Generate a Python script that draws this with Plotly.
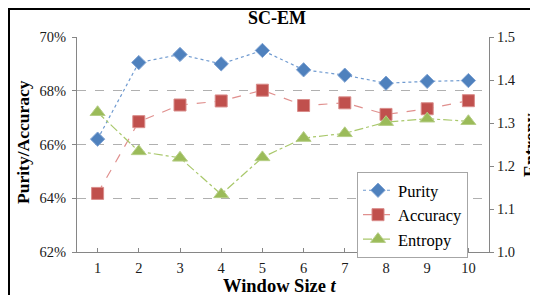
import plotly.graph_objects as go

window_sizes = [1, 2, 3, 4, 5, 6, 7, 8, 9, 10]
purity = [66.2, 69.05, 69.35, 69.0, 69.5, 68.78, 68.58, 68.28, 68.35, 68.38]
accuracy = [64.18, 66.85, 67.47, 67.62, 68.02, 67.45, 67.55, 67.12, 67.33, 67.63]
entropy = [1.325, 1.234, 1.219, 1.134, 1.220, 1.265, 1.276, 1.302, 1.310, 1.304]

left_ticks = [62, 64, 66, 68, 70]
left_labels = ["62%", "64%", "66%", "68%", "70%"]
right_ticks = [1.0, 1.1, 1.2, 1.3, 1.4, 1.5]
right_labels = ["1.0", "1.1", "1.2", "1.3", "1.4", "1.5"]

SERIF = "Liberation Serif"
OFF = 8  # page body margin
W, H = 538 - OFF, 295 - OFF
# plot area in page pixels: x 77..489, y 37..252
L = 77 - OFF
R = W - (489 - OFF)
T = 37 - OFF
B = H - (252 - OFF)

fig = go.Figure()
fig.add_trace(go.Scatter(
    x=window_sizes, y=purity, name="Purity", mode="lines+markers",
    line=dict(color="#6F9AD0", width=1.2, dash="dot"),
    marker=dict(symbol="diamond", size=11, color="#4F81BD",
                line=dict(color="#7FA3D3", width=1)),
))
fig.add_trace(go.Scatter(
    x=window_sizes, y=accuracy, name="Accuracy", mode="lines+markers",
    line=dict(color="#E0908E", width=1.2, dash="dash"),
    marker=dict(symbol="square", size=12, color="#C0504D",
                line=dict(color="#D98C8A", width=1)),
))
fig.add_trace(go.Scatter(
    x=window_sizes, y=entropy, name="Entropy", mode="lines+markers", yaxis="y2",
    line=dict(color="#A9C86B", width=1.2, dash="dashdot"),
    marker=dict(symbol="triangle-up", size=13, color="#9BBB59",
                line=dict(color="#B5CE85", width=1)),
))

pw, ph = W - L - R, H - T - B
def px(xpage):
    return (xpage - OFF - L) / pw
def py(ypage):
    return (H - B - (ypage - OFF)) / ph

TICKFONT = dict(family=SERIF, size=14.5, color="#1A1A1A")

fig.update_layout(
    width=W, height=H,
    margin=dict(l=L, r=R, t=T, b=B, pad=0),
    paper_bgcolor="white", plot_bgcolor="white",
    font=dict(family=SERIF, size=14, color="#1A1A1A"),
    showlegend=True,
    legend=dict(
        x=px(357), y=py(172),
        xanchor="left", yanchor="top",
        bgcolor="white", bordercolor="#A6A6A6", borderwidth=1,
        font=dict(family=SERIF, size=16.5, color="#000000"),
        tracegroupgap=0, itemwidth=30,
    ),
    xaxis=dict(
        range=[0.5, 10.5], tickmode="array", tickvals=window_sizes,
        ticktext=[str(v) for v in window_sizes],
        showgrid=False, zeroline=False,
        showline=True, linecolor="#868686", linewidth=1,
        ticks="inside", ticklen=4, tickcolor="#868686",
        tickfont=TICKFONT, ticklabelstandoff=3,
        fixedrange=True,
    ),
    yaxis=dict(
        range=[62, 70], tickmode="array", tickvals=left_ticks, ticktext=left_labels,
        showgrid=True, gridcolor="#B0B0B0", griddash="dash", gridwidth=1,
        zeroline=False, showline=True, linecolor="#868686", linewidth=1,
        ticks="outside", ticklen=4, tickcolor="#868686",
        tickfont=TICKFONT, ticklabelstandoff=3,
    ),
    yaxis2=dict(
        range=[1.0, 1.5], tickmode="array", tickvals=right_ticks, ticktext=right_labels,
        overlaying="y", side="right", showgrid=False, zeroline=False,
        showline=True, linecolor="#868686", linewidth=1,
        ticks="outside", ticklen=4, tickcolor="#868686",
        tickfont=TICKFONT,
    ),
    title=dict(text="<b>SC-EM</b>", x=(277 - OFF) / W, xanchor="center",
               y=1 - (18 - OFF) / H, yanchor="middle",
               font=dict(family=SERIF, size=18, color="#000000")),
)

fig.add_annotation(text="<b>Purity/Accuracy</b>", xref="paper", yref="paper",
                   x=px(23), y=py(142), showarrow=False, textangle=-90,
                   xanchor="center", yanchor="middle",
                   font=dict(family=SERIF, size=17.5, color="#000000"))
fig.add_annotation(text="<b>Entropy</b>", xref="paper", yref="paper",
                   x=px(531), y=py(145), showarrow=False, textangle=-90,
                   xanchor="center", yanchor="middle",
                   font=dict(family=SERIF, size=18, color="#000000"))
fig.add_annotation(text="<b>Window Size <i>t</i></b>", xref="paper", yref="paper",
                   x=px(280), y=py(286), showarrow=False,
                   xanchor="center", yanchor="middle",
                   font=dict(family=SERIF, size=18.5, color="#000000"))

# outer frame (top and left edges visible)
fig.add_shape(type="line", xref="paper", yref="paper",
              x0=px(8), x1=px(560), y0=py(9), y1=py(9),
              line=dict(color="#000000", width=2))
fig.add_shape(type="line", xref="paper", yref="paper",
              x0=px(9), x1=px(9), y0=py(8), y1=py(320),
              line=dict(color="#000000", width=2))

fig.write_html("out.html")
